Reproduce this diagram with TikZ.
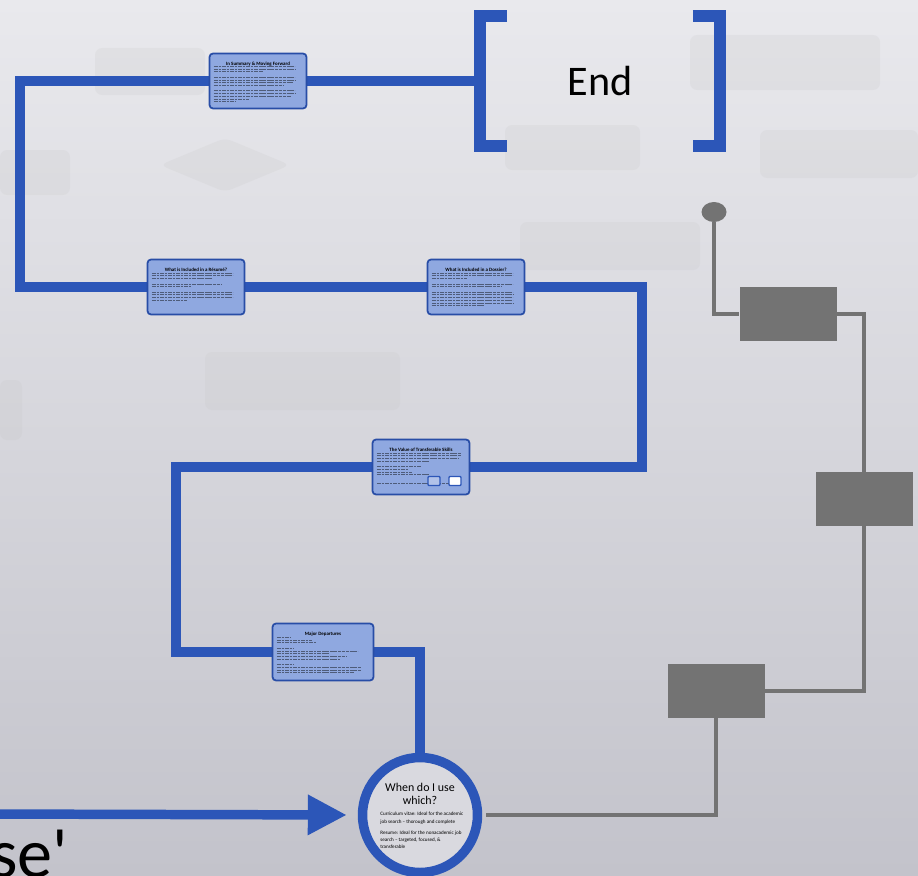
\documentclass[tikz,border=0pt]{standalone}
\usepackage{fontspec}
\setmainfont{Carlito}
\usetikzlibrary{arrows.meta,shapes.geometric,backgrounds}

\definecolor{pathblue}{HTML}{2C56B8}
\definecolor{cardblue}{HTML}{8FA8E0}
\definecolor{wiregray}{HTML}{737373}
\definecolor{bgtop}{HTML}{E9E9ED}
\definecolor{bgbottom}{HTML}{C3C3CB}
\definecolor{ringfill}{HTML}{D9D9DF}

% strokes standing in for the small print of a card
\newcommand{\cardlines}[3]{%
  \foreach \len [count=\k] in {#3}
    \draw[textline] ([xshift=3pt,yshift={-#2-\k*1.55pt}]#1.north west) -- ++(\len pt,0);}

\begin{document}
\begin{tikzpicture}[x=0.02cm,y=-0.02cm,
  route/.style={draw=pathblue,line width=5.4pt},
  bracket/.style={draw=pathblue,line width=7.2pt},
  card/.style={draw=pathblue!90!black,line width=1pt,fill=cardblue,rounded corners=2pt,
    minimum width=1.94cm,minimum height=1.1cm,inner sep=0pt},
  cardtitle/.style={font=\fontsize{2.8}{3.2}\selectfont\bfseries},
  textline/.style={line width=0.35pt,black,opacity=0.45,
    dash pattern=on 2.2pt off 0.5pt on 1.4pt off 0.5pt},
  wire/.style={draw=wiregray,line width=2.3pt},
  block/.style={fill=wiregray,minimum width=1.94cm,minimum height=1.08cm,inner sep=0pt},
  faint/.style={fill=gray!45,opacity=0.2,rounded corners=4pt}]
  \useasboundingbox (0,0) rectangle (918,875);

  % the cards along the route
  \node[card,label={[cardtitle,anchor=north,yshift=-2pt]north:In Summary \& Moving Forward}] (summary) at (258,81) {};
  \node[card,label={[cardtitle,anchor=north,yshift=-2pt]north:What is Included in a Résumé?}] (incl1) at (196,287) {};
  \node[card,label={[cardtitle,anchor=north,yshift=-2pt]north:What is Included in a Dossier?}] (incl2) at (476,287) {};
  \node[card,label={[cardtitle,anchor=north,yshift=-2pt]north:The Value of Transferable Skills}] (skills) at (421,467) {};
  \node[card,minimum width=2.02cm,minimum height=1.14cm,
    label={[cardtitle,anchor=north,yshift=-2pt]north:Major Departures}] (departures) at (323,652) {};

  \cardlines{summary}{6.2pt}{46,47,28,0,46,47,45,40,0,46,47,44,20,12}
  \cardlines{incl1}{6.6pt}{46,46,34,0,40,22,0,46,46,46,20}
  \cardlines{incl2}{6.6pt}{46,46,20,0,46,40,0,46,47,46,46,47,30}
  \cardlines{skills}{6.6pt}{48,48,47,30,0,25,18,20,30,0,0,47}
  \cardlines{departures}{6.8pt}{8,20,22,0,10,46,30,40,36,0,10,48,48,44}
  \node[draw=pathblue,line width=0.8pt,fill=cardblue!70,rounded corners=0.5pt,
    minimum width=0.24cm,minimum height=0.18cm,inner sep=0pt] (icona) at (434,481) {};
  \node[draw=pathblue,line width=0.8pt,fill=white,rounded corners=0.5pt,
    minimum width=0.24cm,minimum height=0.18cm,inner sep=0pt] (iconb) at (455,481) {};

  % end of the route
  \node[minimum width=4.8cm,minimum height=2.6cm,outer sep=0pt,
    font=\fontsize{24}{28}\selectfont] (endbox) at (600,81) {End};
  \draw[bracket] ([xshift=0.54cm]endbox.north west) -| (endbox.south west) -- ++(0.54cm,0);
  \draw[bracket] ([xshift=-0.54cm]endbox.north east) -| (endbox.south east) -- ++(-0.54cm,0);

  \node[circle,draw=pathblue,line width=5.4pt,fill=ringfill,minimum size=2.3cm,inner sep=0pt] (use) at (420,815) {};
  \node[font=\fontsize{6.8}{7.6}\selectfont,align=center] (usetitle) at (420,794) {When do I use\\which?};
  \node[font=\fontsize{2.9}{4.1}\selectfont,align=left,anchor=north west,inner sep=0pt] (usebody) at (380,812)
    {Curriculum vitae: Ideal for the academic\\job search -- thorough and complete\\[2.4pt]
     Resume: Ideal for the nonacademic job\\search -- targeted, focused, \&\\transferable};

  \node[font=\fontsize{40}{44}\selectfont,anchor=base west,inner sep=0pt] (cut) at (-10,877) {se\textquotesingle};

  % grey wiring on the right
  \node[ellipse,fill=wiregray,minimum width=0.5cm,minimum height=0.4cm,inner sep=0pt] (pin) at (714,212) {};
  \node[block] (block1) at (788,314) {};
  \node[block] (block2) at (864,499) {};
  \node[block] (block3) at (716,691) {};
  \draw[wire] (pin) |- (block1.west);
  \draw[wire] (block1.east) -| (block2.north);
  \draw[wire] (block2.south) |- (block3.east);
  \draw[wire,shorten >=2pt] (block3.south) |- (use.east);

  \coordinate (tl) at (20,81);
  \coordinate (mr) at (642,467);
  \coordinate (ml) at (176,652);
  \coordinate (entry) at (-10,814);

  \begin{pgfonlayer}{background}
    \shade[top color=bgtop,bottom color=bgbottom] (0,0) rectangle (918,875);
    \fill[faint] (95,48) rectangle (205,95);
    \fill[faint] (160,165) -- (225,138) -- (290,165) -- (225,192) -- cycle;
    \fill[faint] (0,150) rectangle (70,195);
    \fill[faint] (505,125) rectangle (640,170);
    \fill[faint] (690,35) rectangle (880,90);
    \fill[faint] (760,130) rectangle (918,178);
    \fill[faint] (520,222) rectangle (700,270);
    \fill[faint] (205,352) rectangle (400,410);
    \fill[faint] (0,380) rectangle (22,440);
    \draw[route] (endbox.west) -- (summary.center) -- (tl) |- (incl1.center) -- (incl2.center)
      -| (mr) -- (skills.center) -| (ml) -- (departures.center) -| (use.north);
    \draw[route,-{Triangle[length=0.78cm,width=0.76cm]},shorten >=0.22cm] (entry) -- (use.west);
  \end{pgfonlayer}
\end{tikzpicture}
\end{document}
